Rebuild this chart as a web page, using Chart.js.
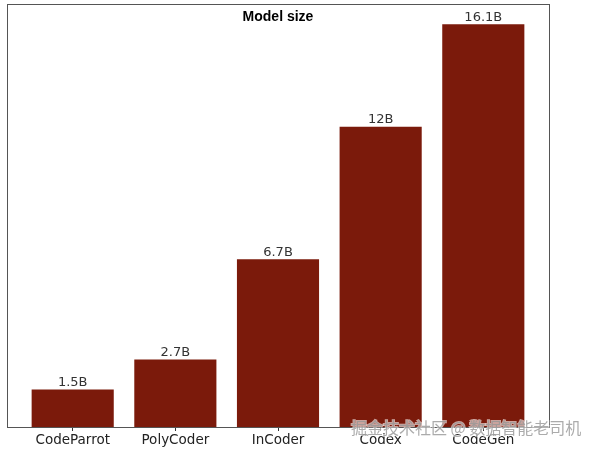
<!DOCTYPE html>
<html>
<head>
<meta charset="utf-8">
<script src="https://cdn.jsdelivr.net/npm/chart.js@4/dist/chart.umd.min.js"></script>
<style>
  html, body { margin: 0; padding: 0; background: #fff; }
  #wrap { width: 597px; height: 451px; position: relative; }
</style>
</head>
<body>
<div id="wrap"><canvas id="c" width="597" height="451"></canvas></div>
<script>
const categories = ['CodeParrot', 'PolyCoder', 'InCoder', 'Codex', 'CodeGen'];
const sizes = [1.5, 2.7, 6.7, 12, 16.1];
const valueLabels = ['1.5B', '2.7B', '6.7B', '12B', '16.1B'];
const chartTitle = 'Model size';
const watermark = '掘金技术社区 @ 数据智能老司机';

const points = sizes.map((v, i) => ({ x: i, y: v }));

const decor = {
  id: 'decor',
  afterDatasetsDraw(chart) {
    const ctx = chart.ctx;
    const a = chart.chartArea;
    ctx.save();
    // value labels
    const meta = chart.getDatasetMeta(0);
    ctx.font = '13px "DejaVu Sans"';
    ctx.fillStyle = '#333';
    ctx.textAlign = 'center';
    ctx.textBaseline = 'bottom';
    meta.data.forEach((bar, i) => {
      ctx.fillText(valueLabels[i], bar.x, bar.y - 0.5);
    });
    // frame
    ctx.strokeStyle = '#555';
    ctx.lineWidth = 1;
    ctx.strokeRect(Math.round(a.left) + 0.5, Math.round(a.top) + 0.5, Math.round(a.right - a.left), Math.round(a.bottom - a.top));
    // title
    ctx.font = 'bold 14px "Liberation Sans"';
    ctx.fillStyle = '#000';
    ctx.textBaseline = 'middle';
    ctx.fillText(chartTitle, (a.left + a.right) / 2, 17);
    ctx.restore();
  },
  afterDraw(chart) {
    const ctx = chart.ctx;
    ctx.save();
    ctx.font = '16px "Noto Sans CJK SC"';
    ctx.textAlign = 'left';
    ctx.textBaseline = 'middle';
    ctx.lineWidth = 2;
    ctx.strokeStyle = 'rgba(255,255,255,0.6)';
    ctx.strokeText(watermark, 351, 428);
    ctx.fillStyle = 'rgba(150,150,150,0.8)';
    ctx.fillText(watermark, 351, 428);
    ctx.restore();
  }
};

new Chart(document.getElementById('c'), {
  type: 'bar',
  data: {
    datasets: [{
      data: points,
      backgroundColor: '#7b1a0b',
      borderWidth: 0,
      categoryPercentage: 1,
      barPercentage: 0.8
    }]
  },
  options: {
    responsive: false,
    animation: false,
    layout: { padding: { left: 7, right: 48, top: 4, bottom: 0 } },
    plugins: { legend: { display: false }, tooltip: { enabled: false }, title: { display: false } },
    scales: {
      x: {
        type: 'linear',
        position: 'bottom',
        offset: false,
        min: -0.64,
        max: 4.64,
        afterBuildTicks(scale) { scale.ticks = categories.map((_, i) => ({ value: i })); },
        afterFit(scale) { scale.height = 24; },
        grid: { display: true, offset: false, drawOnChartArea: false, drawTicks: true, tickLength: 4, color: '#333', lineWidth: 1 },
        border: { display: false },
        ticks: {
          padding: 1,
          autoSkip: false,
          maxRotation: 0,
          color: '#222',
          font: { family: 'DejaVu Sans', size: 13.5 },
          callback: (v) => categories[Math.round(v)] ?? ''
        }
      },
      y: {
        display: false,
        min: 0,
        max: 16.905
      }
    }
  },
  plugins: [decor]
});
</script>
</body>
</html>
